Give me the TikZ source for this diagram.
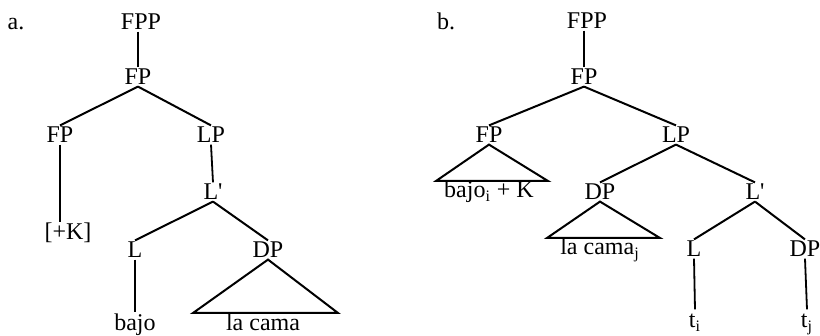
\documentclass[tikz,border=0pt]{standalone}
\usepackage{fontspec}
\setmainfont{Liberation Serif}
\usetikzlibrary{positioning}

\begin{document}
\begin{tikzpicture}[x=0.5pt, y=-0.5pt,
  font=\fontsize{12}{14}\selectfont,
  cat/.style={inner sep=0.6pt, text height=8pt, text depth=0pt},
  leaf/.style={inner sep=0.6pt, text height=8.5pt, text depth=2.5pt},
  branch/.style={line width=1pt, black},
  stem/.style={line width=0.9pt, black}]

\useasboundingbox (0,0) rectangle (820,336);

\node[cat] (labA) at (16,22) {a.};
\node[cat] (fppA) at (141,22) {FPP};
\node[cat] (fpA) at (138,77) {FP};
\node[cat] (fpLeftA) at (60,135) {FP};
\node[cat] (lpA) at (211,135) {LP};
\node[cat] (kA) at (68,232) {[+K]};
\node[cat] (lbarA) at (213,192) {L\textquotesingle};
\node[cat] (lA) at (135,250) {L};
\node[cat] (dpA) at (268,250) {DP};
\node[leaf] (bajoA) at (135,325) {bajo};
\node[leaf] (camaA) at (263,325) {la cama};
\coordinate (triAl) at (193,313);
\coordinate (triAr) at (338,313);

\draw[stem] (fpA.north |- fppA.south) -- (fpA.north);
\draw[branch] (fpA.south) -- (fpLeftA.north);
\draw[branch] (fpA.south) -- (lpA.north);
\draw[stem] (fpLeftA.south) -- (fpLeftA.south |- kA.north);
\draw[stem] (lpA.south) -- (lbarA.north);
\draw[branch] (lbarA.south) -- (lA.north);
\draw[branch] (lbarA.south) -- (dpA.north);
\draw[stem] (lA.south) -- (bajoA.north);
\draw[branch] (dpA.south) -- (triAl) -- (triAr) -- cycle;

\node[cat] (labB) at (446,22) {b.};
\node[cat] (fppB) at (587,21) {FPP};
\node[cat] (fpB) at (584,77) {FP};
\node[cat] (fpLeftB) at (489,135) {FP};
\node[cat] (lpB) at (676,135) {LP};
\node[leaf] (bajoB) at (489,192) {bajo\textsubscript{i} + K};
\node[cat] (dpB) at (600,192) {DP};
\node[cat] (lbarB) at (755,192) {L\textquotesingle};
\node[leaf] (camaB) at (600,249) {la cama\textsubscript{j}};
\node[cat] (lB) at (694,249) {L};
\node[cat] (dpRB) at (805,249) {DP};
\node[leaf] (tiB) at (695,322) {t\textsubscript{i}};
\node[leaf] (tjB) at (807,322) {t\textsubscript{j}};
\coordinate (triBl) at (436,181);
\coordinate (triBr) at (548,181);
\coordinate (triCl) at (547,238);
\coordinate (triCr) at (660,238);

\draw[stem] (fpB.north |- fppB.south) -- (fpB.north);
\draw[branch] (fpB.south) -- (fpLeftB.north);
\draw[branch] (fpB.south) -- (lpB.north);
\draw[branch] (fpLeftB.south) -- (triBl) -- (triBr) -- cycle;
\draw[branch] (lpB.south) -- (dpB.north);
\draw[branch] (lpB.south) -- (lbarB.north);
\draw[branch] (dpB.south) -- (triCl) -- (triCr) -- cycle;
\draw[branch] (lbarB.south) -- (lB.north);
\draw[branch] (lbarB.south) -- (dpRB.north);
\draw[stem] (lB.south) -- (tiB.north);
\draw[stem] (dpRB.south) -- (tjB.north);
\end{tikzpicture}
\end{document}
